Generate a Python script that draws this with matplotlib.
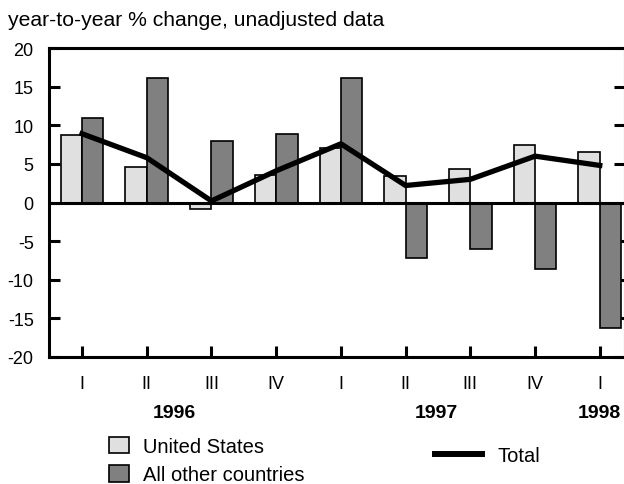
import numpy as np
import matplotlib.pyplot as plt
from matplotlib.patches import Patch
from matplotlib.lines import Line2D

plt.rcParams['font.family'] = ['Liberation Sans', 'DejaVu Sans']
plt.rcParams['axes.unicode_minus'] = False

quarters = ['I', 'II', 'III', 'IV', 'I', 'II', 'III', 'IV', 'I']
years = ['1996', '1997', '1998']
year_pos = [1.42, 5.48, 8.0]
us = [8.7, 4.6, -0.8, 3.6, 7.0, 3.4, 4.4, 7.5, 6.6]
others = [10.9, 16.1, 7.9, 8.9, 16.1, -7.2, -6.0, -8.6, -16.3]
total = [8.9, 5.8, 0.2, 4.1, 7.6, 2.2, 3.0, 6.0, 4.8]

light = '#e0e0e0'
dark = '#808080'

fig = plt.figure(figsize=(6.24, 4.85), dpi=100)
ax = fig.add_axes([49 / 624, 1 - 358 / 485, 576 / 624, 309 / 485])

x = np.arange(len(quarters))
w = 0.33
ax.bar(x - w / 2, us, w, color=light, edgecolor='black', linewidth=1.2, zorder=2)
ax.bar(x + w / 2, others, w, color=dark, edgecolor='black', linewidth=1.2, zorder=2)
ax.axhline(0, color='black', linewidth=2.2, zorder=3)
ax.plot(x, total, color='black', linewidth=3.8, zorder=4)

ax.set_xlim(-0.51, 8.39)
ax.set_ylim(-20, 20)
ax.set_yticks(np.arange(-20, 21, 5))
ax.set_xticks(x)
ax.set_xticklabels(quarters)
ax.tick_params(axis='both', direction='in', width=2.2, length=8, labelsize=13)
ax.tick_params(axis='y', right=True, pad=11)
ax.tick_params(axis='x', pad=13)
for s in ax.spines.values():
    s.set_linewidth(2.2)

# year labels under the quarters
trans = ax.get_xaxis_transform()
for yr, pos in zip(years, year_pos):
    ax.text(pos, -0.18, yr, transform=trans, ha='center', va='center',
            fontsize=14, fontweight='bold')

fig.text(8 / 624, 1 - 21 / 485, 'year-to-year % change, unadjusted data',
         fontsize=15.2, va='center', ha='left')

bar_handles = [Patch(facecolor=light, edgecolor='black', linewidth=1.2, label='United States'),
               Patch(facecolor=dark, edgecolor='black', linewidth=1.2, label='All other countries')]
fig.legend(handles=bar_handles, loc='center left', bbox_to_anchor=(109 / 624, 1 - 461.5 / 485),
           frameon=False, fontsize=14.5, handlelength=1.0, handleheight=0.9,
           handletextpad=0.7, labelspacing=0.45, borderaxespad=0, borderpad=0)
fig.legend(handles=[Line2D([], [], color='black', linewidth=4.3, label='Total')],
           loc='center left', bbox_to_anchor=(435 / 624, 1 - 457 / 485),
           frameon=False, fontsize=14.5, handlelength=2.35, handletextpad=0.75,
           borderaxespad=0, borderpad=0)

fig.savefig('out.png', dpi=100)
